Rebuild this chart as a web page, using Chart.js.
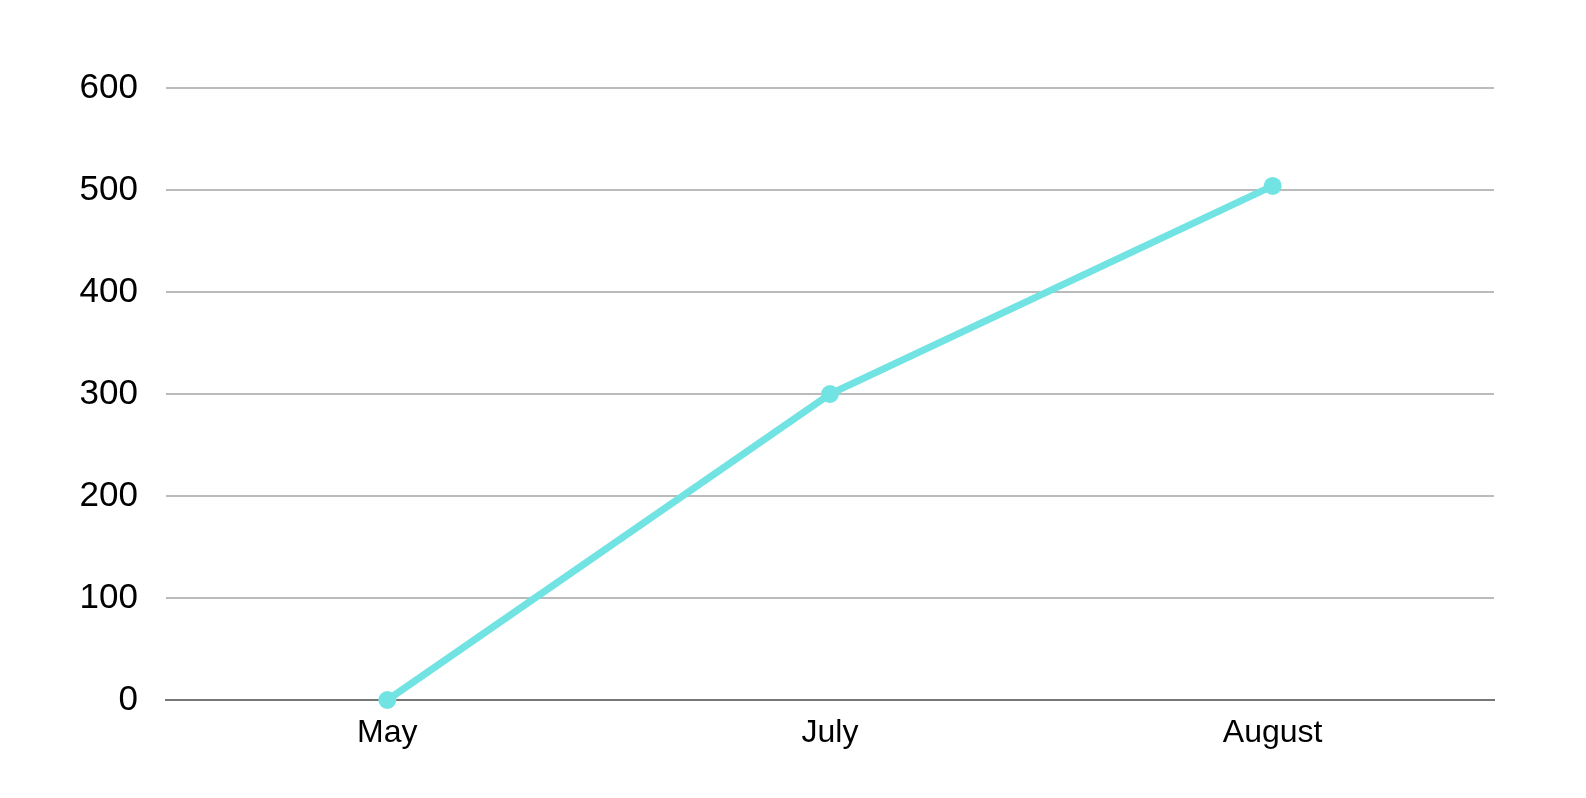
<!DOCTYPE html>
<html>
<head>
<meta charset="utf-8">
<script src="https://cdn.jsdelivr.net/npm/chart.js@4.4.1/dist/chart.umd.min.js"></script>
<style>
    html, body { margin: 0; padding: 0; background: #fff; }
    #wrap { width: 1586px; height: 798px; }
</style>
</head>
<body>
<div id="wrap"><canvas id="chart" width="1586" height="798"></canvas></div>
<script>
// chart data
const months = ['May', 'July', 'August'];
const values = [0, 300, 504];
const yTicks = [0, 100, 200, 300, 400, 500, 600];

const FONT = '"Liberation Sans", Arial, sans-serif';

new Chart(document.getElementById('chart'), {
    type: 'line',
    data: {
        labels: months,
        datasets: [{
            data: values,
            borderColor: '#72e3e3',
            backgroundColor: '#72e3e3',
            borderWidth: 7,
            pointRadius: 9,
            pointBorderWidth: 0,
            pointBackgroundColor: '#72e3e3',
            tension: 0,
            fill: false,
            clip: false
        }]
    },
    options: {
        responsive: false,
        animation: false,
        layout: {
            padding: { top: 88, right: 92, bottom: 0, left: 0 }
        },
        plugins: {
            legend: { display: false },
            tooltip: { enabled: false }
        },
        scales: {
            x: {
                offset: true,
                grid: { display: false },
                border: { display: true, color: '#777', width: 2 },
                ticks: {
                    color: '#000',
                    padding: 6,
                    font: { family: FONT, size: 32 }
                },
                afterFit: (scale) => { scale.height = 98; }
            },
            y: {
                min: yTicks[0],
                max: yTicks[yTicks.length - 1],
                afterBuildTicks: (scale) => {
                    scale.ticks = yTicks.map(v => ({ value: v }));
                },
                grid: {
                    color: (ctx) => ctx.tick && ctx.tick.value === 0 ? 'rgba(0,0,0,0)' : '#bbb',
                    lineWidth: 2,
                    drawTicks: false
                },
                border: { display: false },
                ticks: {
                    color: '#000',
                    padding: 28,
                    font: { family: FONT, size: 35 }
                },
                afterFit: (scale) => { scale.width = 166; }
            }
        }
    }
});
</script>
</body>
</html>
